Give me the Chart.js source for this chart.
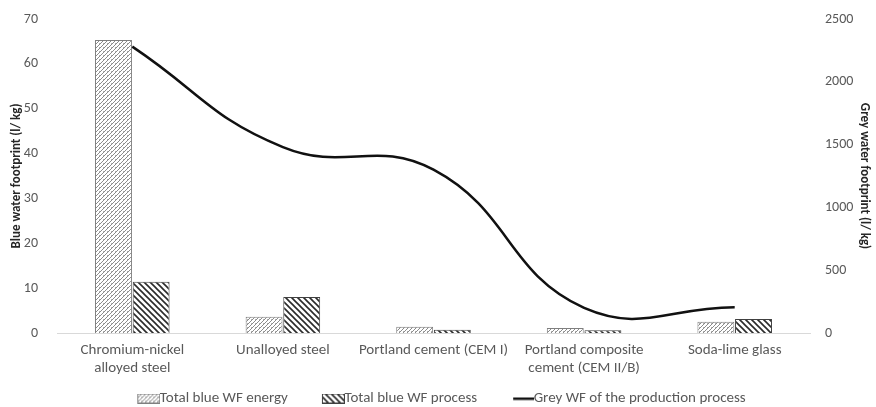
<!DOCTYPE html>
<html>
<head>
<meta charset="utf-8">
<script src="https://cdn.jsdelivr.net/npm/chart.js@4.4.0/dist/chart.umd.min.js"></script>
<style>
  html, body { margin: 0; padding: 0; background: #fff; }
  #wrap { width: 876px; height: 407px; }
</style>
</head>
<body>
<div id="wrap"><canvas id="myChart" width="876" height="407"></canvas></div>
<script>
// data
var categories = [
    ['Chromium-nickel', 'alloyed steel'],
    'Unalloyed steel',
    'Portland cement (CEM I)',
    ['Portland composite', 'cement (CEM II/B)'],
    'Soda-lime glass'
];
var energyWF = [65.3, 3.6, 1.4, 1.1, 2.5];     // l/kg, left axis
var processWF = [11.4, 8.0, 0.7, 0.6, 3.1];    // l/kg, left axis
var greyWF = [2280, 1480, 1300, 200, 205];     // l/kg, right axis
var leftTicks = [0, 70, 10];
var rightTicks = [0, 2500, 500];

var seriesNames = ['Total blue WF energy', 'Total blue WF process', 'Grey WF of the production process'];

var fontFamily = 'Carlito, Lato, "Open Sans", sans-serif';
var tickColor = '#595959';

function makeTile(kind) {
    var c = document.createElement('canvas');
    var g = c.getContext('2d');
    if (kind === 'energy') {
        c.width = 4; c.height = 4;
        g.fillStyle = '#ffffff';
        g.fillRect(0, 0, 4, 4);
        g.strokeStyle = '#8a8a8a';
        g.lineWidth = 1;
        g.beginPath();
        g.moveTo(0, 4); g.lineTo(4, 0);
        g.stroke();
        g.fillStyle = '#b0b0b0';
        g.fillRect(3, 3, 1, 1);
    } else {
        c.width = 6; c.height = 6;
        g.fillStyle = '#ffffff';
        g.fillRect(0, 0, 6, 6);
        g.strokeStyle = '#2b2b2b';
        g.lineWidth = 1.6;
        g.beginPath();
        g.moveTo(-1, -1); g.lineTo(7, 7);
        g.moveTo(-4, 2); g.lineTo(1, 7);
        g.moveTo(2, -4); g.lineTo(7, 1);
        g.stroke();
    }
    return c;
}

var ctx = document.getElementById('myChart').getContext('2d');
var energyPattern = ctx.createPattern(makeTile('energy'), 'repeat');
var processPattern = ctx.createPattern(makeTile('process'), 'repeat');

// legend icons: canvas is wider than the box so the drawn part sits right next to the text
function legendIcon(kind) {
    var c = document.createElement('canvas');
    c.width = 38; c.height = 10;
    var g = c.getContext('2d');
    if (kind === 'line') {
        g.fillStyle = '#111';
        g.fillRect(17, 4, 21, 2.5);
    } else {
        g.fillStyle = g.createPattern(makeTile(kind), 'repeat');
        g.fillRect(15, 0, 23, 10);
        g.strokeStyle = kind === 'energy' ? '#7f7f7f' : '#404040';
        g.lineWidth = 1;
        g.strokeRect(15.5, 0.5, 22, 9);
    }
    return c;
}
var icons = [legendIcon('energy'), legendIcon('process'), legendIcon('line')];

// legend padding is large for the gaps between items, so put its row back where it belongs
var legendShift = {
    id: 'legendShift',
    afterLayout: function (chart) {
        var lg = chart.legend;
        if (!lg) return;
        lg.top = 398 - 27 - 7;
        lg.bottom = chart.height;
        lg.height = lg.bottom - lg.top;
    }
};

// fixed axis widths; tick padding must not push the plot top down
function fixWidth(w) {
    return function (s) {
        s.width = w;
        s.paddingTop = 19;
        s.paddingBottom = 8;
    };
}

var graphData = {
    type: 'bar',
    data: {
        labels: categories,
        datasets: [{
            label: seriesNames[0],
            data: energyWF,
            backgroundColor: energyPattern,
            borderColor: '#7f7f7f',
            borderWidth: 1,
            yAxisID: 'y',
            order: 2,
            categoryPercentage: 0.5,
            barPercentage: 0.98
        }, {
            label: seriesNames[1],
            data: processWF,
            backgroundColor: processPattern,
            borderColor: '#404040',
            borderWidth: 1,
            yAxisID: 'y',
            order: 2,
            categoryPercentage: 0.5,
            barPercentage: 0.98
        }, {
            type: 'line',
            label: seriesNames[2],
            data: greyWF,
            borderColor: '#111111',
            borderWidth: 2.5,
            pointRadius: 0,
            tension: 0.45,
            fill: false,
            yAxisID: 'y2',
            order: 0
        }]
    },
    options: {
        responsive: false,
        animation: false,
        devicePixelRatio: 1,
        layout: { padding: { top: 0, right: 0, bottom: 0, left: 0 } },
        plugins: {
            tooltip: { enabled: false },
            legend: {
                position: 'bottom',
                maxHeight: 30,
                labels: {
                    usePointStyle: true,
                    pointStyleWidth: 22,
                    padding: 27,
                    color: tickColor,
                    font: { family: fontFamily, size: 15 },
                    generateLabels: function (chart) {
                        return chart.data.datasets.map(function (ds, i) {
                            return {
                                text: ds.label,
                                pointStyle: icons[i],
                                fillStyle: 'transparent',
                                strokeStyle: 'transparent',
                                lineWidth: 0,
                                fontColor: tickColor,
                                datasetIndex: i
                            };
                        });
                    }
                }
            }
        },
        scales: {
            x: {
                grid: { display: false, drawTicks: false },
                border: { display: true, color: '#d9d9d9', width: 1 },
                ticks: {
                    color: tickColor,
                    font: { family: fontFamily, size: 15 },
                    maxRotation: 0,
                    autoSkip: false,
                    padding: 8
                },
                afterFit: function (s) { s.height = 44; }
            },
            y: {
                position: 'left',
                min: leftTicks[0],
                max: leftTicks[1],
                ticks: {
                    stepSize: leftTicks[2],
                    color: tickColor,
                    font: { family: fontFamily, size: 14 },
                    padding: 19
                },
                grid: { display: false, drawTicks: false },
                border: { display: false },
                title: {
                    display: true,
                    text: 'Blue water footprint (l/ kg)',
                    color: '#262626',
                    font: { family: fontFamily, size: 13, weight: 'bold' },
                    padding: { top: 9, bottom: 0 }
                },
                afterFit: fixWidth(57)
            },
            y2: {
                position: 'right',
                min: rightTicks[0],
                max: rightTicks[1],
                ticks: {
                    stepSize: rightTicks[2],
                    color: tickColor,
                    font: { family: fontFamily, size: 14 },
                    padding: 15,
                    callback: function (v) { return String(v); }
                },
                grid: { display: false, drawTicks: false },
                border: { display: false },
                title: {
                    display: true,
                    text: 'Grey water footprint (l/ kg)',
                    color: '#262626',
                    font: { family: fontFamily, size: 13, weight: 'bold' },
                    padding: { top: 4, bottom: 0 }
                },
                afterFit: fixWidth(66)
            }
        }
    },
    plugins: [legendShift]
};

var myChart = new Chart(ctx, graphData);
</script>
</body>
</html>
